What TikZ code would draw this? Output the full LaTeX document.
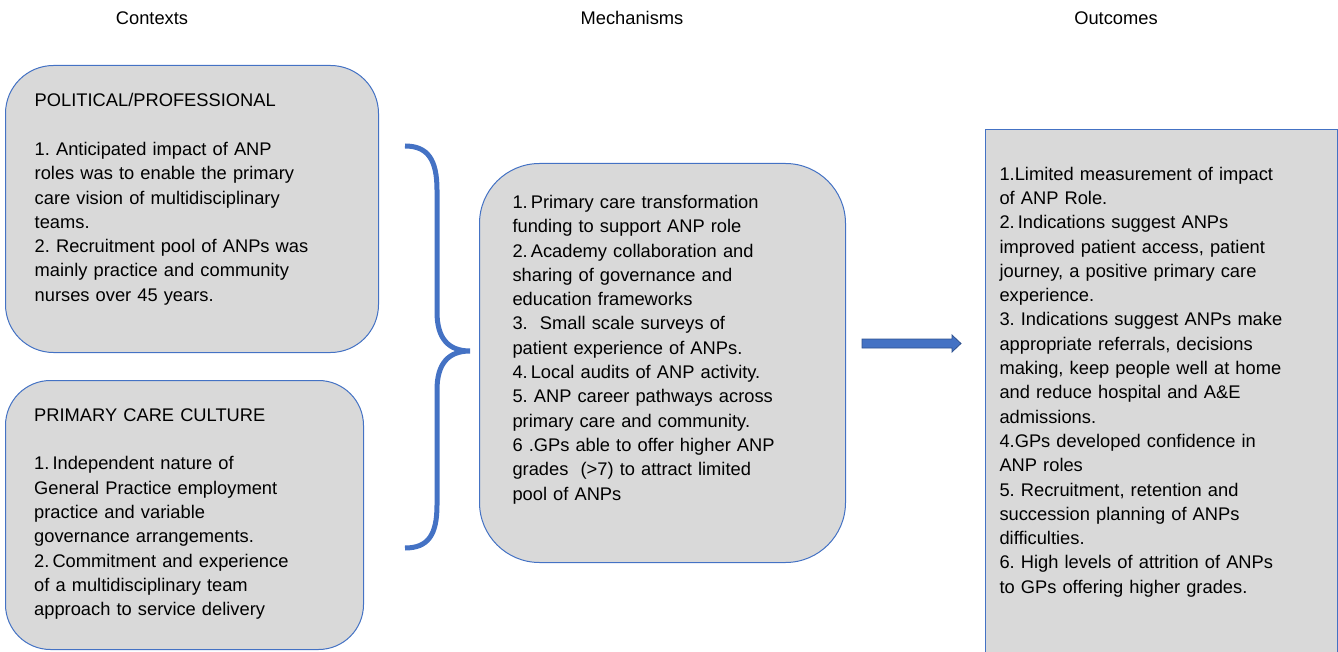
\documentclass[tikz,border=0pt]{standalone}
\usepackage{fontspec}
\setmainfont{Liberation Sans}
\usepackage{xcolor}
\usetikzlibrary{calc}
\definecolor{cmoblue}{HTML}{4472C4}
\definecolor{cmogray}{HTML}{D9D9D9}
\definecolor{cmoedge}{HTML}{2F528F}
\frenchspacing

\begin{document}
\begin{tikzpicture}[x=1pt, y=-1pt,
	head/.style = {font=\fontsize{18.3}{24.3}\selectfont, anchor=base},
	cbox/.style = {draw=cmoblue, fill=cmogray, line width=1pt, anchor=north west, inner sep=0},
	txt/.style = {font=\fontsize{18.3}{24.3}\selectfont, anchor=north west, inner sep=0, text width=335pt, align=left}]
		\useasboundingbox (0,0) rectangle (1338,652);
		
		% column headings
		\node[head] (ctx) at (152,24.5) {Contexts};
		\node[head] (mech) at (632,24.5) {Mechanisms};
		\node[head] (outc) at (1116,24.5) {Outcomes};
		
		% contexts
		\node[cbox, rounded corners=48pt, minimum width=373, minimum height=287] (pol) at (5,65) {};
		\node[txt] (poltxt) at ($(pol.north west)+(29.5,28.4)$) {POLITICAL/PROFESSIONAL\\[24.3pt]
			1. Anticipated impact of ANP\\
			roles was to enable the primary\\
			care vision of multidisciplinary\\
			teams.\\
			2. Recruitment pool of ANPs was\\
			mainly practice and community\\
			nurses over 45 years.};
		\node[cbox, rounded corners=45pt, minimum width=358, minimum height=269] (cult) at (5,380) {};
		\node[txt] (culttxt) at ($(cult.north west)+(29,28.4)$) {PRIMARY CARE CULTURE\\[24.3pt]
			1.\,Independent nature of\\
			General Practice employment\\
			practice and variable\\
			governance arrangements.\\
			2.\,Commitment and experience\\
			of a multidisciplinary team\\
			approach to service delivery};
		
		% brace
		\draw[cmoblue, line width=5pt] (405,146) .. controls (428,146) and (437,160) .. (437,190) -- (437,312)
			.. controls (437,338) and (448,351) .. (470,351)
			.. controls (448,351) and (437,364) .. (437,390) -- (437,505)
			.. controls (437,535) and (428,548) .. (405,548);
		
		% mechanisms
		\node[cbox, rounded corners=60pt, minimum width=366, minimum height=399] (mechbox) at (479,163) {};
		\node[txt] (mechtxt) at ($(mechbox.north west)+(33.3,32)$) {1.\,Primary care transformation\\
			funding to support ANP role\\
			2.\,Academy collaboration and\\
			sharing of governance and\\
			education frameworks\\
			3.\ \ Small scale surveys of\\
			patient experience of ANPs.\\
			4.\,Local audits of ANP activity.\\
			5. ANP career pathways across\\
			primary care and community.\\
			6 .GPs able to offer higher ANP\\
			grades\ \ (>7) to attract limited\\
			pool of ANPs};
		
		% arrow
		\filldraw[fill=cmoblue, draw=cmoedge, line width=0.8pt] (862,339) -- (952,339) -- (952,335) -- (961,343.5)
			-- (952,352) -- (952,348) -- (862,348) -- cycle;
		
		% outcomes
		\node[cbox, line width=1.2pt, minimum width=352, minimum height=540] (outbox) at (985,129) {};
		\node[txt] (outtxt) at ($(outbox.north west)+(14.3,37.7)$) {1.Limited measurement of impact\\
			of ANP Role.\\
			2.\,Indications suggest ANPs\\
			improved patient access, patient\\
			journey, a positive primary care\\
			experience.\\
			3. Indications suggest ANPs make\\
			appropriate referrals, decisions\\
			making, keep people well at home\\
			and reduce hospital and A\&E\\
			admissions.\\
			4.GPs developed confidence in\\
			ANP roles\\
			5. Recruitment, retention and\\
			succession planning of ANPs\\
			difficulties.\\
			6. High levels of attrition of ANPs\\
			to GPs offering higher grades.};
	\end{tikzpicture}
\end{document}
